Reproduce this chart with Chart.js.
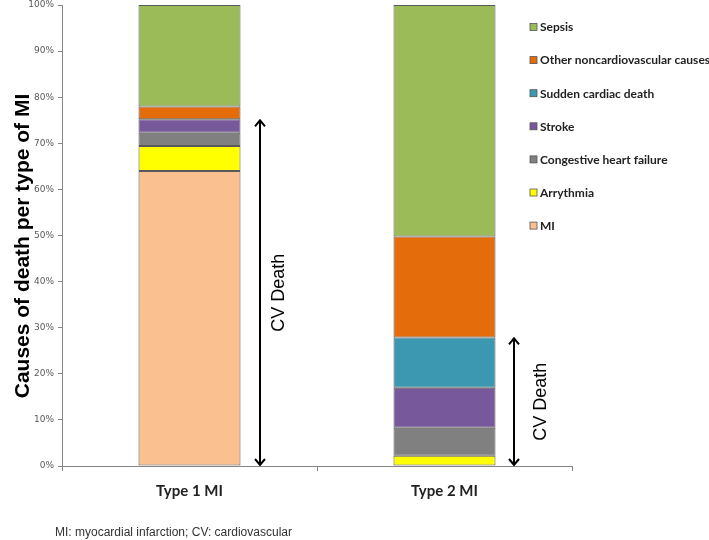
<!DOCTYPE html>
<html>
<head>
<meta charset="utf-8">
<script src="https://cdn.jsdelivr.net/npm/chart.js@4"></script>
<style>
  body { margin: 0; background: #fff; }
  #wrap { width: 709px; height: 540px; position: relative; }
</style>
</head>
<body>
<div id="wrap"><canvas id="deathChart"></canvas></div>
<script>
let categories = ["Type 1 MI", "Type 2 MI"];
let causes = ["MI", "Arrythmia", "Congestive heart failure", "Stroke",
    "Sudden cardiac death", "Other noncardiovascular causes", "Sepsis"];
let causeColors = ["#FAC090", "#FFFF00", "#808080", "#77589A", "#3C97B0", "#E46C0A", "#9BBB59"];

// percent of deaths, one list per cause: [Type 1, Type 2]
let miValues = [64.0, 0];
let arrythmiaValues = [5.4, 2.2];
let chfValues = [2.9, 6.1];
let strokeValues = [2.9, 8.7];
let suddenValues = [0, 10.9];
let otherValues = [2.8, 21.9];
let sepsisValues = [22.0, 50.2];

let yTicks = [0, 10, 20, 30, 40, 50, 60, 70, 80, 90, 100];
let cvCauseCount = 5; // first five causes are cardiovascular
let yTitle = "Causes of death per type of MI";
let footnote = "MI: myocardial infarction; CV: cardiovascular";

let seriesValues = [miValues, arrythmiaValues, chfValues, strokeValues,
    suddenValues, otherValues, sepsisValues];

// legend on the right, drawn over the plot like the original
const sideLegend = {
    id: 'sideLegend',
    afterDraw(chart) {
        let ctx = chart.ctx;
        let sets = chart.data.datasets.slice().reverse();
        ctx.save();
        ctx.font = "bold 12px Lato";
        ctx.textBaseline = "middle";
        ctx.textAlign = "left";
        sets.forEach((ds, i) => {
            let y = 27 + i * 33.1;
            ctx.fillStyle = ds.backgroundColor;
            ctx.fillRect(530, y - 3.5, 7, 7);
            ctx.strokeStyle = "#555";
            ctx.lineWidth = 0.8;
            ctx.strokeRect(530, y - 3.5, 7, 7);
            ctx.fillStyle = "#222";
            ctx.fillText(ds.label, 540, y + 0.5);
        });
        ctx.restore();
    }
};

// "CV Death" arrows next to each bar, height = sum of cardiovascular causes
const cvArrows = {
    id: 'cvArrows',
    afterDraw(chart) {
        let ctx = chart.ctx;
        let xs = chart.scales.x, ys = chart.scales.y;
        let arrowShift = [70.5, 69.5];
        let textGap = [19, 27];
        ctx.save();
        categories.forEach((c, i) => {
            let cv = 0;
            for (let k = 0; k < cvCauseCount; k++) cv += seriesValues[k][i];
            let x = xs.getPixelForValue(i) + arrowShift[i];
            let yTop = ys.getPixelForValue(cv);
            let yBot = ys.getPixelForValue(0);
            ctx.strokeStyle = "#000";
            ctx.lineWidth = 2;
            ctx.beginPath();
            ctx.moveTo(x, yTop + 1);
            ctx.lineTo(x, yBot - 1);
            ctx.stroke();
            ctx.beginPath();
            ctx.moveTo(x - 5, yTop + 7);
            ctx.lineTo(x, yTop + 1);
            ctx.lineTo(x + 5, yTop + 7);
            ctx.moveTo(x - 5, yBot - 7);
            ctx.lineTo(x, yBot - 1);
            ctx.lineTo(x + 5, yBot - 7);
            ctx.stroke();

            ctx.translate(x + textGap[i], (yTop + yBot) / 2);
            ctx.rotate(-Math.PI / 2);
            ctx.fillStyle = "#000";
            ctx.font = "18px 'Liberation Sans'";
            ctx.textAlign = "center";
            ctx.textBaseline = "middle";
            ctx.fillText("CV Death", 0, 0);
            ctx.setTransform(1, 0, 0, 1, 0, 0);
        });

        // y axis title, sits a little below the axis middle in the original
        ctx.translate(23, 246);
        ctx.rotate(-Math.PI / 2);
        ctx.font = "bold 21px 'Liberation Sans'";
        ctx.fillStyle = "#000";
        ctx.textAlign = "center";
        ctx.textBaseline = "middle";
        ctx.fillText(yTitle, 0, 0);
        ctx.setTransform(1, 0, 0, 1, 0, 0);

        ctx.font = "12px 'Liberation Sans'";
        ctx.fillStyle = "#333";
        ctx.textAlign = "left";
        ctx.textBaseline = "middle";
        ctx.fillText(footnote, 55, 533);
        ctx.restore();
    }
};

let datasets = causes.map((name, i) => ({
    label: name,
    data: seriesValues[i],
    backgroundColor: causeColors[i],
    borderColor: "rgba(60,60,60,0.85)",
    borderWidth: 1,
    borderSkipped: false,
    barPercentage: 0.4,
    categoryPercentage: 1.0
}));

let ctx = document.getElementById('deathChart').getContext('2d');
let chartInstance = new Chart(ctx, {
    type: 'bar',
    data: { labels: categories, datasets: datasets },
    options: {
        responsive: true,
        maintainAspectRatio: false,
        animation: false,
        layout: { padding: { top: 0, right: 137, bottom: 29, left: 0 } },
        plugins: {
            legend: { display: false },
            tooltip: { enabled: false }
        },
        scales: {
            x: {
                stacked: true,
                grid: { offset: true, drawOnChartArea: false, tickLength: 5, color: "#868686" },
                border: { color: "#868686" },
                ticks: {
                    padding: 11,
                    color: "#222",
                    font: { family: "Lato", size: 15, weight: "bold" }
                }
            },
            y: {
                stacked: true,
                min: 0,
                max: 100,
                afterFit(scale) {
                    scale.width = 62;
                    scale.paddingTop = 5;
                    scale.paddingBottom = 0;
                },
                afterBuildTicks(scale) { scale.ticks = yTicks.map(v => ({ value: v })); },
                grid: { drawOnChartArea: false, tickLength: 4, color: "#868686" },
                border: { color: "#868686" },
                ticks: {
                    padding: 4,
                    color: "#595959",
                    font: { family: "DejaVu Sans", size: 9 },
                    callback: v => v + "%"
                }
            }
        }
    },
    plugins: [sideLegend, cvArrows]
});
</script>
</body>
</html>
